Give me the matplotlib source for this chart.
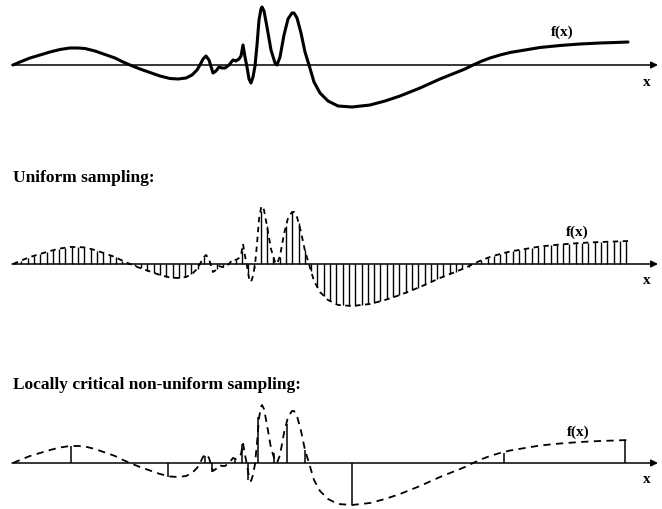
"""Schematic: uniform vs. locally critical non-uniform sampling of f(x)."""

import matplotlib.pyplot as plt
import numpy as np

# --- the signal f(x) (x in px, f upward in px) ---
curve_x = [13, 20, 30, 40, 50, 60, 70, 78, 85, 95, 105, 115, 122, 130, 140,
           150, 160, 170, 178, 186, 192, 197, 200, 203, 206, 209, 213, 216,
           219, 222, 225, 229, 233, 236, 239, 241, 243, 245, 247, 249, 251,
           253, 255, 257, 259, 261, 262, 264, 267, 271, 275, 277, 280, 284,
           288, 292, 294, 297, 301, 305, 309, 314, 320, 328, 338, 352, 370,
           385, 400, 420, 440, 455, 465, 473, 482, 490, 500, 510, 525, 540,
           560, 580, 600, 615, 628]
curve_f = [0, 3, 7, 10, 13, 15.5, 17, 17, 16.5, 14, 10.5, 7, 3.5, 0, -4,
           -7.5, -11, -13.5, -14, -13, -10, -5, 0, 6, 9, 5, -8, -6,
           -2, -3, -3, 0, 5, 4, 6, 9, 20, 8, -2, -14, -18,
           -12, -1, 20, 45, 56, 58, 54, 38, 15, 2, 0, 8, 30,
           46, 52, 52, 47, 32, 13, 0, -17, -28, -36, -41, -42, -40,
           -36, -31, -23, -14, -8, -4, 0, 4, 7, 10, 12.5, 15, 17.5,
           19.5, 21, 22, 22.5, 23]

# --- uniform samples (98 stems, spacing ~6.3 px starting at x=15) ---
uniform_f = [0.9, 3.5, 6.0, 8.2, 10.1, 12.0, 13.7, 15.3, 16.3, 17.0,
             17.0, 16.6, 15.1, 13.3, 11.1, 8.9, 6.6, 3.4, 0.7, -1.9,
             -4.4, -6.6, -8.8, -11.0, -12.6, -13.7, -13.9, -13.1, -10.3, -4.6,
             7.0, 0.8, -5.2, -3.0, 0.2, 4.2, 13.4, -8.6, -4.3, 52.7,
             38.0, 7.5, 7.0, 37.6, 52.0, 41.4, 14.0, -7.1, -23.2, -31.7,
             -37.0, -40.2, -41.3, -41.8, -41.6, -40.9, -40.2, -38.9, -37.2, -35.4,
             -33.3, -31.2, -28.8, -26.2, -23.7, -21.0, -18.1, -15.3, -12.6, -10.1,
             -7.6, -5.1, -2.5, 0.8, 3.6, 6.1, 8.1, 10.0, 11.6, 12.9,
             14.0, 15.0, 16.1, 17.2, 17.9, 18.6, 19.2, 19.7, 20.2, 20.7,
             21.1, 21.4, 21.7, 22.0, 22.2, 22.5, 22.7, 22.9]
uniform_x = 15 + 6.3 * np.arange(len(uniform_f))

# --- locally critical non-uniform samples ---
nonuni_x = [71, 168, 205, 212, 235, 242, 248, 258, 274, 287, 305, 352, 504, 625]
nonuni_f = [17, -14, 7, -9, 5, 19, -17, 46, 10, 39, 13, -42, 10, 22]

BASES = [66, 265, 464]      # y of the x-axis of each panel (px, downward)
FONT = "Liberation Serif"

fig = plt.figure(figsize=(6.62, 5.10), dpi=100)
ax = fig.add_axes([0, 0, 1, 1])
ax.set_xlim(0, 662)
ax.set_ylim(510, 0)
ax.axis("off")

cx = np.array(curve_x)
cf = np.array(curve_f)


def x_axis(base):
    ax.annotate("", xy=(658, base), xytext=(12, base),
                arrowprops=dict(arrowstyle="-|>", lw=1.1, color="black",
                                mutation_scale=10, shrinkA=0, shrinkB=0))
    ax.text(647, base + 16, "x", fontfamily=FONT, fontweight="bold",
            fontsize=11, ha="center", va="center")


# panel 1 — continuous signal
b = BASES[0]
x_axis(b)
ax.plot(cx, b - cf, color="black", lw=2.2, solid_joinstyle="round",
        solid_capstyle="round")
ax.text(562, 32, "f(x)", fontfamily=FONT, fontweight="bold", fontsize=11,
        ha="center", va="center")

# panel 2 — uniform sampling
b = BASES[1]
ax.text(13, 178, "Uniform sampling:", fontfamily=FONT, fontweight="bold",
        fontsize=12.5, ha="left", va="center")
x_axis(b)
ax.plot(cx, b - cf, color="black", lw=1.3, linestyle=(0, (3, 2.5)))
ax.vlines(uniform_x, b, b - np.array(uniform_f), color="black", lw=1.0)
ax.text(577, 232, "f(x)", fontfamily=FONT, fontweight="bold", fontsize=11,
        ha="center", va="center")

# panel 3 — locally critical non-uniform sampling
b = BASES[2]
ax.text(13, 385, "Locally critical non-uniform sampling:", fontfamily=FONT,
        fontweight="bold", fontsize=12.5, ha="left", va="center")
x_axis(b)
ax.plot(cx, b - cf, color="black", lw=1.3, linestyle=(0, (4, 3)))
ax.vlines(nonuni_x, b, b - np.array(nonuni_f), color="black", lw=1.1)
ax.text(578, 432, "f(x)", fontfamily=FONT, fontweight="bold", fontsize=11,
        ha="center", va="center")

fig.savefig("out.png", dpi=100)
